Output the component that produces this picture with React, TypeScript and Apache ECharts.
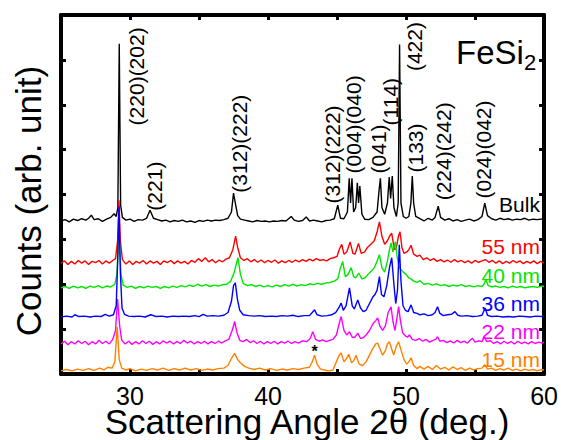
import React, { useEffect, useRef } from "react";
import * as echarts from "echarts";

// X-ray diffraction patterns (2θ in degrees, intensity relative to each trace's own baseline)
const bulk: number[][] = [[25,0],[25.3,0.03],[25.6,-0.02],[25.9,0.04],[26.2,0.01],[26.5,0.05],[26.8,0.02],[27.0,0.06],[27.2,0.13],[27.4,0.03],[27.7,0.05],[28.0,-0.01],[28.3,0.04],[28.6,0.08],[28.85,0.16],[29.0,0.1],[29.12,0.3],[29.22,3.95],[29.32,0.35],[29.45,0.08],[29.7,0.02],[30.0,0.04],[30.3,-0.01],[30.6,0.03],[30.9,0.02],[31.2,0.06],[31.45,0.24],[31.7,0.06],[32.0,0.03],[32.3,0.0],[32.6,0.02],[32.9,-0.02],[33.2,0.01],[33.5,-0.01],[33.8,0.02],[34.1,-0.02],[34.4,0.0],[34.7,-0.03],[35.0,0.01],[35.3,-0.01],[35.6,0.02],[35.9,0.0],[36.2,0.02],[36.5,0.01],[36.8,0.03],[37.1,0.06],[37.35,0.2],[37.5,0.62],[37.6,0.45],[37.8,0.12],[38.0,0.04],[38.3,0.02],[38.6,0.0],[38.9,-0.02],[39.2,0.01],[39.5,-0.01],[39.8,0.0],[40.1,-0.02],[40.4,0.0],[40.7,-0.01],[41.0,0.01],[41.3,0.0],[41.68,0.1],[41.9,0.02],[42.2,-0.01],[42.5,0.01],[42.77,0.09],[43.0,0.0],[43.3,0.02],[43.6,0.0],[43.9,-0.02],[44.2,0.01],[44.5,0.02],[44.8,0.05],[45.05,0.35],[45.25,0.06],[45.5,0.05],[45.75,0.2],[45.88,0.95],[45.98,0.4],[46.08,0.95],[46.2,0.2],[46.35,0.3],[46.47,0.85],[46.56,0.4],[46.65,0.78],[46.8,0.15],[47.0,0.04],[47.3,0.03],[47.6,0.08],[47.9,0.2],[48.05,0.7],[48.14,0.95],[48.25,0.3],[48.45,0.15],[48.65,0.4],[48.78,0.98],[48.88,0.5],[49.0,1.0],[49.12,0.3],[49.3,0.1],[49.43,0.4],[49.53,3.93],[49.63,0.4],[49.8,0.1],[50.0,0.06],[50.2,0.1],[50.35,0.4],[50.45,1.0],[50.55,0.4],[50.7,0.1],[51.0,0.05],[51.3,0.0],[51.6,0.06],[51.9,0.02],[52.1,0.08],[52.33,0.33],[52.5,0.08],[52.8,0.02],[53.1,0.05],[53.4,0.0],[53.7,0.03],[54.0,-0.01],[54.3,0.02],[54.6,0.04],[54.9,0.0],[55.2,0.03],[55.5,0.1],[55.7,0.4],[55.9,0.12],[56.2,0.05],[56.5,0.02],[56.8,0.06],[57.1,0.03],[57.4,0.05],[57.7,0.02],[58.0,0.04],[58.3,0.03],[58.6,0.06],[58.9,0.02],[59.2,0.04],[59.5,0.03],[60,0.05]];

const nm55: number[][] = [[25,0.0],[25.25,0.05],[25.5,-0.03],[25.75,0.04],[26.0,-0.02],[26.25,0.06],[26.5,0.0],[26.75,0.05],[27.0,-0.03],[27.25,0.04],[27.5,0.01],[27.75,0.06],[28.0,-0.02],[28.25,0.05],[28.5,0.0],[28.75,0.06],[28.95,0.1],[29.1,0.5],[29.2,1.4],[29.3,0.5],[29.45,0.08],[29.7,-0.02],[29.95,0.05],[30.2,-0.03],[30.45,0.04],[30.7,0.0],[30.95,0.06],[31.2,-0.02],[31.45,0.05],[31.7,0.0],[31.95,0.04],[32.2,-0.03],[32.45,0.05],[32.7,0.01],[32.95,0.06],[33.2,-0.01],[33.45,0.05],[33.7,0.0],[33.95,0.04],[34.2,-0.02],[34.45,0.06],[34.7,0.02],[34.95,0.1],[35.2,0.04],[35.45,0.12],[35.7,0.03],[35.95,0.08],[36.2,0.01],[36.45,0.07],[36.7,0.03],[36.95,0.09],[37.2,0.12],[37.45,0.3],[37.65,0.6],[37.8,0.35],[38.0,0.12],[38.25,0.06],[38.5,0.1],[38.75,0.03],[39.0,0.08],[39.25,0.02],[39.5,0.07],[39.75,0.01],[40.0,0.06],[40.25,0.02],[40.5,0.07],[40.75,0.0],[41.0,0.05],[41.25,0.01],[41.5,0.06],[41.75,0.02],[42.0,0.07],[42.25,0.03],[42.5,0.08],[42.75,0.04],[43.0,0.09],[43.25,0.05],[43.5,0.1],[43.75,0.06],[44.0,0.08],[44.25,0.05],[44.5,0.1],[44.75,0.12],[45.0,0.15],[45.15,0.3],[45.34,0.42],[45.5,0.2],[45.7,0.25],[45.95,0.47],[46.15,0.22],[46.3,0.2],[46.55,0.44],[46.75,0.22],[47.0,0.25],[47.2,0.35],[47.45,0.42],[47.7,0.5],[47.9,0.7],[48.07,0.92],[48.25,0.6],[48.45,0.42],[48.65,0.5],[48.8,0.6],[48.96,0.67],[49.15,0.3],[49.3,0.35],[49.45,0.6],[49.56,0.7],[49.7,0.35],[49.85,0.22],[50.05,0.25],[50.2,0.3],[50.36,0.4],[50.55,0.2],[50.8,0.15],[51.0,0.18],[51.25,0.08],[51.5,0.12],[51.75,0.06],[52.0,0.1],[52.25,0.04],[52.5,0.08],[52.75,0.03],[53.0,0.07],[53.25,0.02],[53.5,0.08],[53.75,0.03],[54.0,0.06],[54.25,0.01],[54.5,0.05],[54.75,0.0],[55.0,0.06],[55.25,0.02],[55.5,0.05],[55.75,0.08],[56.0,0.02],[56.25,0.06],[56.5,0.0],[56.75,0.05],[57.0,-0.01],[57.25,0.04],[57.5,0.0],[57.75,0.06],[58.0,0.01],[58.25,0.05],[58.5,-0.01],[58.75,0.04],[59.0,0.0],[59.25,0.05],[59.5,-0.01],[59.75,0.04],[60,0.0]];

const nm40: number[][] = [[25,0.0],[25.3,0.03],[25.6,-0.01],[25.9,0.04],[26.2,0.0],[26.5,0.03],[26.8,-0.01],[27.1,0.04],[27.4,0.01],[27.7,0.05],[28.0,0.0],[28.3,0.04],[28.6,0.02],[28.9,0.08],[29.05,0.3],[29.2,1.2],[29.35,0.3],[29.5,0.06],[29.8,0.01],[30.1,0.04],[30.4,-0.01],[30.7,0.03],[31.0,0.0],[31.3,0.04],[31.6,0.01],[31.9,0.03],[32.2,-0.01],[32.5,0.03],[32.8,0.0],[33.1,0.04],[33.4,0.01],[33.7,0.05],[34.0,0.02],[34.3,0.06],[34.6,0.03],[34.9,0.08],[35.2,0.04],[35.5,0.07],[35.8,0.03],[36.1,0.06],[36.4,0.04],[36.7,0.07],[37.0,0.08],[37.3,0.15],[37.55,0.35],[37.82,0.67],[38.0,0.3],[38.2,0.1],[38.5,0.05],[38.8,0.07],[39.1,0.03],[39.4,0.06],[39.7,0.02],[40.0,0.05],[40.3,0.02],[40.6,0.06],[40.9,0.03],[41.2,0.07],[41.5,0.04],[41.8,0.08],[42.1,0.04],[42.4,0.07],[42.7,0.05],[43.0,0.09],[43.3,0.07],[43.6,0.1],[43.9,0.08],[44.2,0.11],[44.5,0.12],[44.8,0.15],[45.05,0.2],[45.25,0.45],[45.41,0.59],[45.6,0.25],[45.8,0.3],[46.02,0.45],[46.2,0.25],[46.35,0.22],[46.57,0.33],[46.8,0.2],[47.0,0.22],[47.25,0.3],[47.5,0.38],[47.7,0.45],[47.9,0.6],[48.07,0.74],[48.25,0.45],[48.45,0.35],[48.65,0.6],[48.8,0.85],[48.91,1.0],[49.05,0.8],[49.22,1.03],[49.35,0.7],[49.5,0.45],[49.65,0.4],[49.8,0.35],[50.0,0.3],[50.2,0.22],[50.36,0.2],[50.55,0.15],[50.8,0.12],[51.0,0.16],[51.3,0.08],[51.6,0.1],[51.9,0.06],[52.2,0.09],[52.5,0.05],[52.8,0.07],[53.1,0.03],[53.4,0.06],[53.7,0.04],[54.0,0.07],[54.3,0.03],[54.6,0.05],[54.9,0.02],[55.2,0.05],[55.5,0.03],[55.65,0.08],[55.78,0.18],[55.95,0.05],[56.2,0.02],[56.5,0.04],[56.8,0.01],[57.1,0.03],[57.4,0.0],[57.7,0.04],[58.0,0.01],[58.3,0.03],[58.6,0.0],[58.9,0.02],[59.2,0.03],[59.5,0.01],[59.8,0.04],[60,0.03]];

const nm36: number[][] = [[25,0.0],[25.4,0.02],[25.8,0.0],[26.0,0.05],[26.3,0.01],[26.7,0.02],[27.1,0.0],[27.5,0.02],[27.9,0.01],[28.2,0.06],[28.5,0.02],[28.8,0.05],[29.0,0.25],[29.1,1.2],[29.2,2.46],[29.3,1.0],[29.42,0.2],[29.6,0.06],[29.9,0.02],[30.3,0.01],[30.7,0.02],[31.1,0.0],[31.5,0.05],[31.9,0.01],[32.3,0.02],[32.7,0.0],[33.1,0.02],[33.5,0.01],[33.9,0.02],[34.3,0.01],[34.7,0.03],[35.0,0.01],[35.3,0.06],[35.6,0.02],[36.0,0.03],[36.4,0.02],[36.8,0.04],[37.1,0.1],[37.35,0.35],[37.5,0.7],[37.63,0.76],[37.78,0.4],[37.95,0.15],[38.2,0.05],[38.6,0.03],[39.0,0.02],[39.4,0.03],[39.8,0.01],[40.2,0.02],[40.6,0.01],[41.0,0.03],[41.4,0.02],[41.8,0.04],[42.2,0.01],[42.6,0.03],[43.0,0.03],[43.2,0.1],[43.37,0.16],[43.55,0.05],[43.9,0.02],[44.3,0.03],[44.6,0.05],[44.9,0.1],[45.15,0.22],[45.3,0.31],[45.45,0.15],[45.65,0.25],[45.9,0.65],[46.1,0.25],[46.25,0.18],[46.5,0.38],[46.7,0.2],[46.9,0.12],[47.1,0.15],[47.35,0.3],[47.6,0.45],[47.75,0.5],[47.9,0.6],[48.07,0.9],[48.22,0.5],[48.4,0.45],[48.6,0.7],[48.8,1.1],[48.96,1.32],[49.1,0.8],[49.25,0.3],[49.38,0.6],[49.51,1.61],[49.63,0.8],[49.78,0.25],[49.95,0.15],[50.15,0.12],[50.36,0.27],[50.55,0.1],[50.8,0.08],[51.0,0.05],[51.3,0.07],[51.6,0.03],[51.9,0.05],[52.1,0.1],[52.28,0.23],[52.45,0.08],[52.7,0.03],[53.0,0.05],[53.3,0.06],[53.54,0.12],[53.75,0.04],[54.0,0.02],[54.4,0.03],[54.8,0.01],[55.2,0.02],[55.5,0.04],[55.73,0.2],[55.9,0.04],[56.2,0.01],[56.6,0.02],[57.0,0.0],[57.4,0.01],[57.8,0.0],[58.2,0.02],[58.6,0.01],[59.0,0.0],[59.4,0.02],[59.8,0.01],[60,0.02]];

const nm22: number[][] = [[25,0.0],[25.25,0.06],[25.5,-0.02],[25.75,0.05],[26.0,0.0],[26.25,0.07],[26.5,0.01],[26.75,0.06],[27.0,-0.02],[27.25,0.05],[27.5,0.0],[27.75,0.08],[28.0,0.01],[28.25,0.06],[28.5,0.0],[28.75,0.1],[28.95,0.3],[29.1,1.0],[29.25,0.4],[29.4,0.08],[29.65,0.0],[29.9,0.06],[30.15,-0.01],[30.4,0.05],[30.65,0.0],[30.9,0.07],[31.15,0.01],[31.4,0.06],[31.65,-0.01],[31.9,0.05],[32.15,0.0],[32.4,0.07],[32.65,0.02],[32.9,0.06],[33.15,0.0],[33.4,0.05],[33.65,0.01],[33.9,0.08],[34.15,0.02],[34.4,0.06],[34.65,0.0],[34.9,0.05],[35.15,0.01],[35.4,0.06],[35.65,0.0],[35.9,0.05],[36.15,0.01],[36.4,0.06],[36.65,0.02],[36.9,0.07],[37.15,0.1],[37.4,0.3],[37.58,0.5],[37.75,0.25],[37.95,0.08],[38.2,0.05],[38.45,0.1],[38.7,0.03],[38.95,0.07],[39.2,0.01],[39.45,0.06],[39.7,0.0],[39.95,0.05],[40.2,0.01],[40.45,0.06],[40.7,0.0],[40.95,0.05],[41.2,0.02],[41.45,0.06],[41.7,0.01],[41.95,0.05],[42.2,0.02],[42.5,0.07],[42.8,0.05],[43.05,0.12],[43.24,0.27],[43.45,0.1],[43.7,0.06],[43.95,0.09],[44.2,0.05],[44.45,0.08],[44.7,0.1],[44.95,0.2],[45.15,0.45],[45.3,0.61],[45.5,0.3],[45.7,0.2],[45.9,0.27],[46.1,0.15],[46.3,0.15],[46.5,0.24],[46.7,0.12],[46.9,0.14],[47.1,0.2],[47.35,0.3],[47.6,0.45],[47.8,0.52],[47.94,0.58],[48.1,0.4],[48.3,0.3],[48.5,0.4],[48.7,0.7],[48.91,0.83],[49.05,0.5],[49.2,0.3],[49.35,0.6],[49.46,0.83],[49.6,0.5],[49.75,0.25],[49.95,0.18],[50.1,0.15],[50.24,0.2],[50.45,0.1],[50.7,0.08],[50.95,0.12],[51.2,0.06],[51.45,0.1],[51.7,0.04],[51.95,0.08],[52.15,0.1],[52.28,0.16],[52.45,0.06],[52.7,0.08],[52.95,0.03],[53.2,0.07],[53.45,0.02],[53.7,0.08],[53.95,0.03],[54.2,0.06],[54.45,0.02],[54.65,0.08],[54.8,0.13],[55.0,0.04],[55.25,0.07],[55.5,0.05],[55.66,0.16],[55.85,0.05],[56.1,0.07],[56.35,0.01],[56.6,0.05],[56.85,0.0],[57.1,0.06],[57.35,0.01],[57.6,0.05],[57.85,0.0],[58.1,0.06],[58.35,0.01],[58.6,0.04],[58.85,0.0],[59.1,0.05],[59.35,0.01],[59.6,0.04],[59.85,0.02],[60,0.04]];

const nm15: number[][] = [[25,0.0],[25.4,0.03],[25.8,0.0],[26.2,0.04],[26.6,0.01],[27.0,0.05],[27.4,0.01],[27.8,0.06],[28.1,0.02],[28.4,0.08],[28.7,0.06],[28.9,0.2],[29.07,0.98],[29.22,0.25],[29.4,0.06],[29.7,0.02],[30.0,0.05],[30.4,0.0],[30.8,0.04],[31.2,0.01],[31.6,0.05],[32.0,0.02],[32.4,0.06],[32.8,0.01],[33.2,0.05],[33.6,0.02],[34.0,0.06],[34.4,0.02],[34.8,0.05],[35.2,0.01],[35.6,0.04],[36.0,0.02],[36.4,0.05],[36.8,0.06],[37.1,0.12],[37.35,0.28],[37.58,0.39],[37.8,0.25],[38.0,0.18],[38.3,0.1],[38.6,0.06],[39.0,0.03],[39.4,0.06],[39.8,0.02],[40.2,0.05],[40.6,0.01],[41.0,0.04],[41.4,0.02],[41.8,0.05],[42.2,0.03],[42.6,0.06],[43.0,0.08],[43.2,0.2],[43.37,0.35],[43.55,0.15],[43.8,0.04],[44.1,0.02],[44.4,0.0],[44.7,0.02],[44.95,0.2],[45.15,0.35],[45.3,0.4],[45.5,0.2],[45.7,0.28],[45.85,0.37],[46.05,0.18],[46.2,0.22],[46.38,0.35],[46.6,0.15],[46.85,0.12],[47.1,0.2],[47.35,0.35],[47.6,0.5],[47.8,0.6],[47.94,0.62],[48.1,0.5],[48.3,0.35],[48.5,0.45],[48.65,0.6],[48.79,0.65],[48.95,0.5],[49.1,0.35],[49.3,0.55],[49.46,0.65],[49.65,0.45],[49.85,0.25],[50.05,0.15],[50.2,0.2],[50.36,0.29],[50.55,0.12],[50.8,0.05],[51.0,0.1],[51.3,0.04],[51.6,0.1],[51.9,0.03],[52.2,0.12],[52.5,0.04],[52.8,0.08],[53.1,0.02],[53.4,0.09],[53.7,0.03],[54.0,0.07],[54.3,0.01],[54.6,0.06],[54.9,0.02],[55.2,0.05],[55.5,0.06],[55.7,0.14],[55.9,0.04],[56.2,0.06],[56.5,0.01],[56.8,0.05],[57.1,0.02],[57.4,0.06],[57.7,0.01],[58.0,0.04],[58.3,0.0],[58.6,0.04],[58.9,0.01],[59.2,0.03],[59.5,0.0],[59.8,0.03],[60,0.02]];

// vertical offsets of the stacked traces
const traceNames = ["Bulk", "55 nm", "40 nm", "36 nm", "22 nm", "15 nm"];
const traceData = [bulk, nm55, nm40, nm36, nm22, nm15];
const traceOffsets = [3.41, 2.47, 1.92, 1.27, 0.67, 0.07];
const traceColors = ["#000000", "#ff0000", "#00e600", "#0000ff", "#ff00ff", "#ff8000"];
// label anchor (right end) for each trace name
const traceLabelX = 59.7;
const traceLabelY = [3.78, 2.84, 2.2, 1.57, 0.94, 0.33];
// drawing order (later = on top)
const drawOrder = [0, 1, 2, 4, 5, 3];

// peak (hkl) annotations: label, 2θ position, bottom of label (y)
const peakLabels = ["(220)(202)", "(221)", "(312)(222)", "(312)(222)", "(004)(040)", "(041)", "(114)", "(422)", "(133)", "(224)(242)", "(024)(042)"];
const peakLabelX = [30.5, 31.8, 37.95, 44.7, 46.2, 48.0, 48.9, 50.6, 50.7, 52.7, 55.6];
const peakLabelY = [5.54, 3.64, 4.04, 3.8, 4.47, 4.47, 5.54, 6.75, 4.49, 3.87, 3.91];
const starX = 43.37;
const starY = 0.5;

const xTicks = { min: 25, max: 60, interval: 5 };
const yTicks = { min: 0, max: 8, interval: 1 };

const FONT = "'Liberation Sans', Arial, Helvetica, sans-serif";

export default function App() {
  const ref = useRef<HTMLDivElement>(null);
  useEffect(() => {
    if (!ref.current) return;
    const chart = echarts.init(ref.current, undefined, { renderer: "svg" });
    const axisCommon = {
      type: "value" as const,
      axisLine: { show: true, onZero: false, lineStyle: { color: "#000", width: 4 } },
      axisTick: { show: true, inside: true, length: 5, lineStyle: { color: "#000", width: 3 } },
      splitLine: { show: false },
    };
    const series = drawOrder.map((i) => ({
      type: "line" as const,
      name: traceNames[i],
      data: traceData[i].map((p) => [p[0], +(p[1] + traceOffsets[i]).toFixed(3)]),
      showSymbol: false,
      symbol: "none",
      lineStyle: { color: traceColors[i], width: 1.4 },
      itemStyle: { color: traceColors[i] },
      silent: true,
      z: 2 + drawOrder.indexOf(i),
    }));
    chart.setOption({
      animation: false,
      backgroundColor: "#fff",
      grid: { left: 61, right: 15, top: 15, bottom: 66, containLabel: false },
      xAxis: [
        {
          ...axisCommon,
          position: "bottom",
          min: xTicks.min,
          max: xTicks.max,
          interval: xTicks.interval,
          axisLabel: {
            show: true,
            color: "#000",
            fontSize: 25,
            lineHeight: 16,
            fontFamily: FONT,
            margin: 14,
            formatter: (v: number) => (v % 10 === 0 ? String(v) : ""),
          },
        },
        {
          ...axisCommon,
          position: "top",
          min: xTicks.min,
          max: xTicks.max,
          interval: xTicks.interval,
          axisLabel: { show: false },
        },
      ],
      yAxis: [
        { ...axisCommon, position: "left", min: yTicks.min, max: yTicks.max, interval: yTicks.interval, axisLabel: { show: false } },
        { ...axisCommon, position: "right", min: yTicks.min, max: yTicks.max, interval: yTicks.interval, axisLabel: { show: false } },
      ],
      series,
    });

    const toPx = (x: number, y: number) => chart.convertToPixel({ xAxisIndex: 0, yAxisIndex: 0 }, [x, y]) as number[];
    const graphics: any[] = [];
    peakLabels.forEach((t, i) => {
      const [px, py] = toPx(peakLabelX[i], peakLabelY[i]);
      graphics.push({
        type: "text",
        x: px,
        y: py,
        rotation: Math.PI / 2,
        z: 50,
        style: { text: t, fill: "#000", font: `21px ${FONT}`, textAlign: "left", textVerticalAlign: "middle" },
      });
    });
    traceNames.forEach((t, i) => {
      const [px, py] = toPx(traceLabelX, traceLabelY[i]);
      graphics.push({
        type: "text",
        x: px,
        y: py,
        z: 50,
        style: { text: t, fill: traceColors[i], font: `21px ${FONT}`, textAlign: "right", textVerticalAlign: "middle" },
      });
    });
    {
      const [px, py] = toPx(starX, starY);
      graphics.push({
        type: "text",
        x: px,
        y: py,
        z: 50,
        style: { text: "*", fill: "#000", font: `bold 16px ${FONT}`, textAlign: "center", textVerticalAlign: "middle" },
      });
    }
    graphics.push(
      { type: "text", x: 456, y: 52, z: 50, style: { text: "FeSi", fill: "#000", font: `33px ${FONT}`, textAlign: "left", textVerticalAlign: "middle" } },
      { type: "text", x: 524, y: 62, z: 50, style: { text: "2", fill: "#000", font: `22px ${FONT}`, textAlign: "left", textVerticalAlign: "middle" } },
      { type: "text", x: 307, y: 421, z: 50, style: { text: "Scattering Angle 2θ (deg.)", fill: "#000", font: `35px ${FONT}`, lineHeight: 20, textAlign: "center", textVerticalAlign: "middle" } },
      { type: "text", x: 28, y: 201, rotation: Math.PI / 2, z: 50, style: { text: "Counts (arb. unit)", fill: "#000", font: `35px ${FONT}`, textAlign: "center", textVerticalAlign: "middle" } }
    );
    chart.setOption({ graphic: graphics });
    return () => chart.dispose();
  }, []);
  return <div ref={ref} style={{ position: "fixed", left: 0, top: 0, width: 561, height: 440, background: "#fff" }} />;
}
